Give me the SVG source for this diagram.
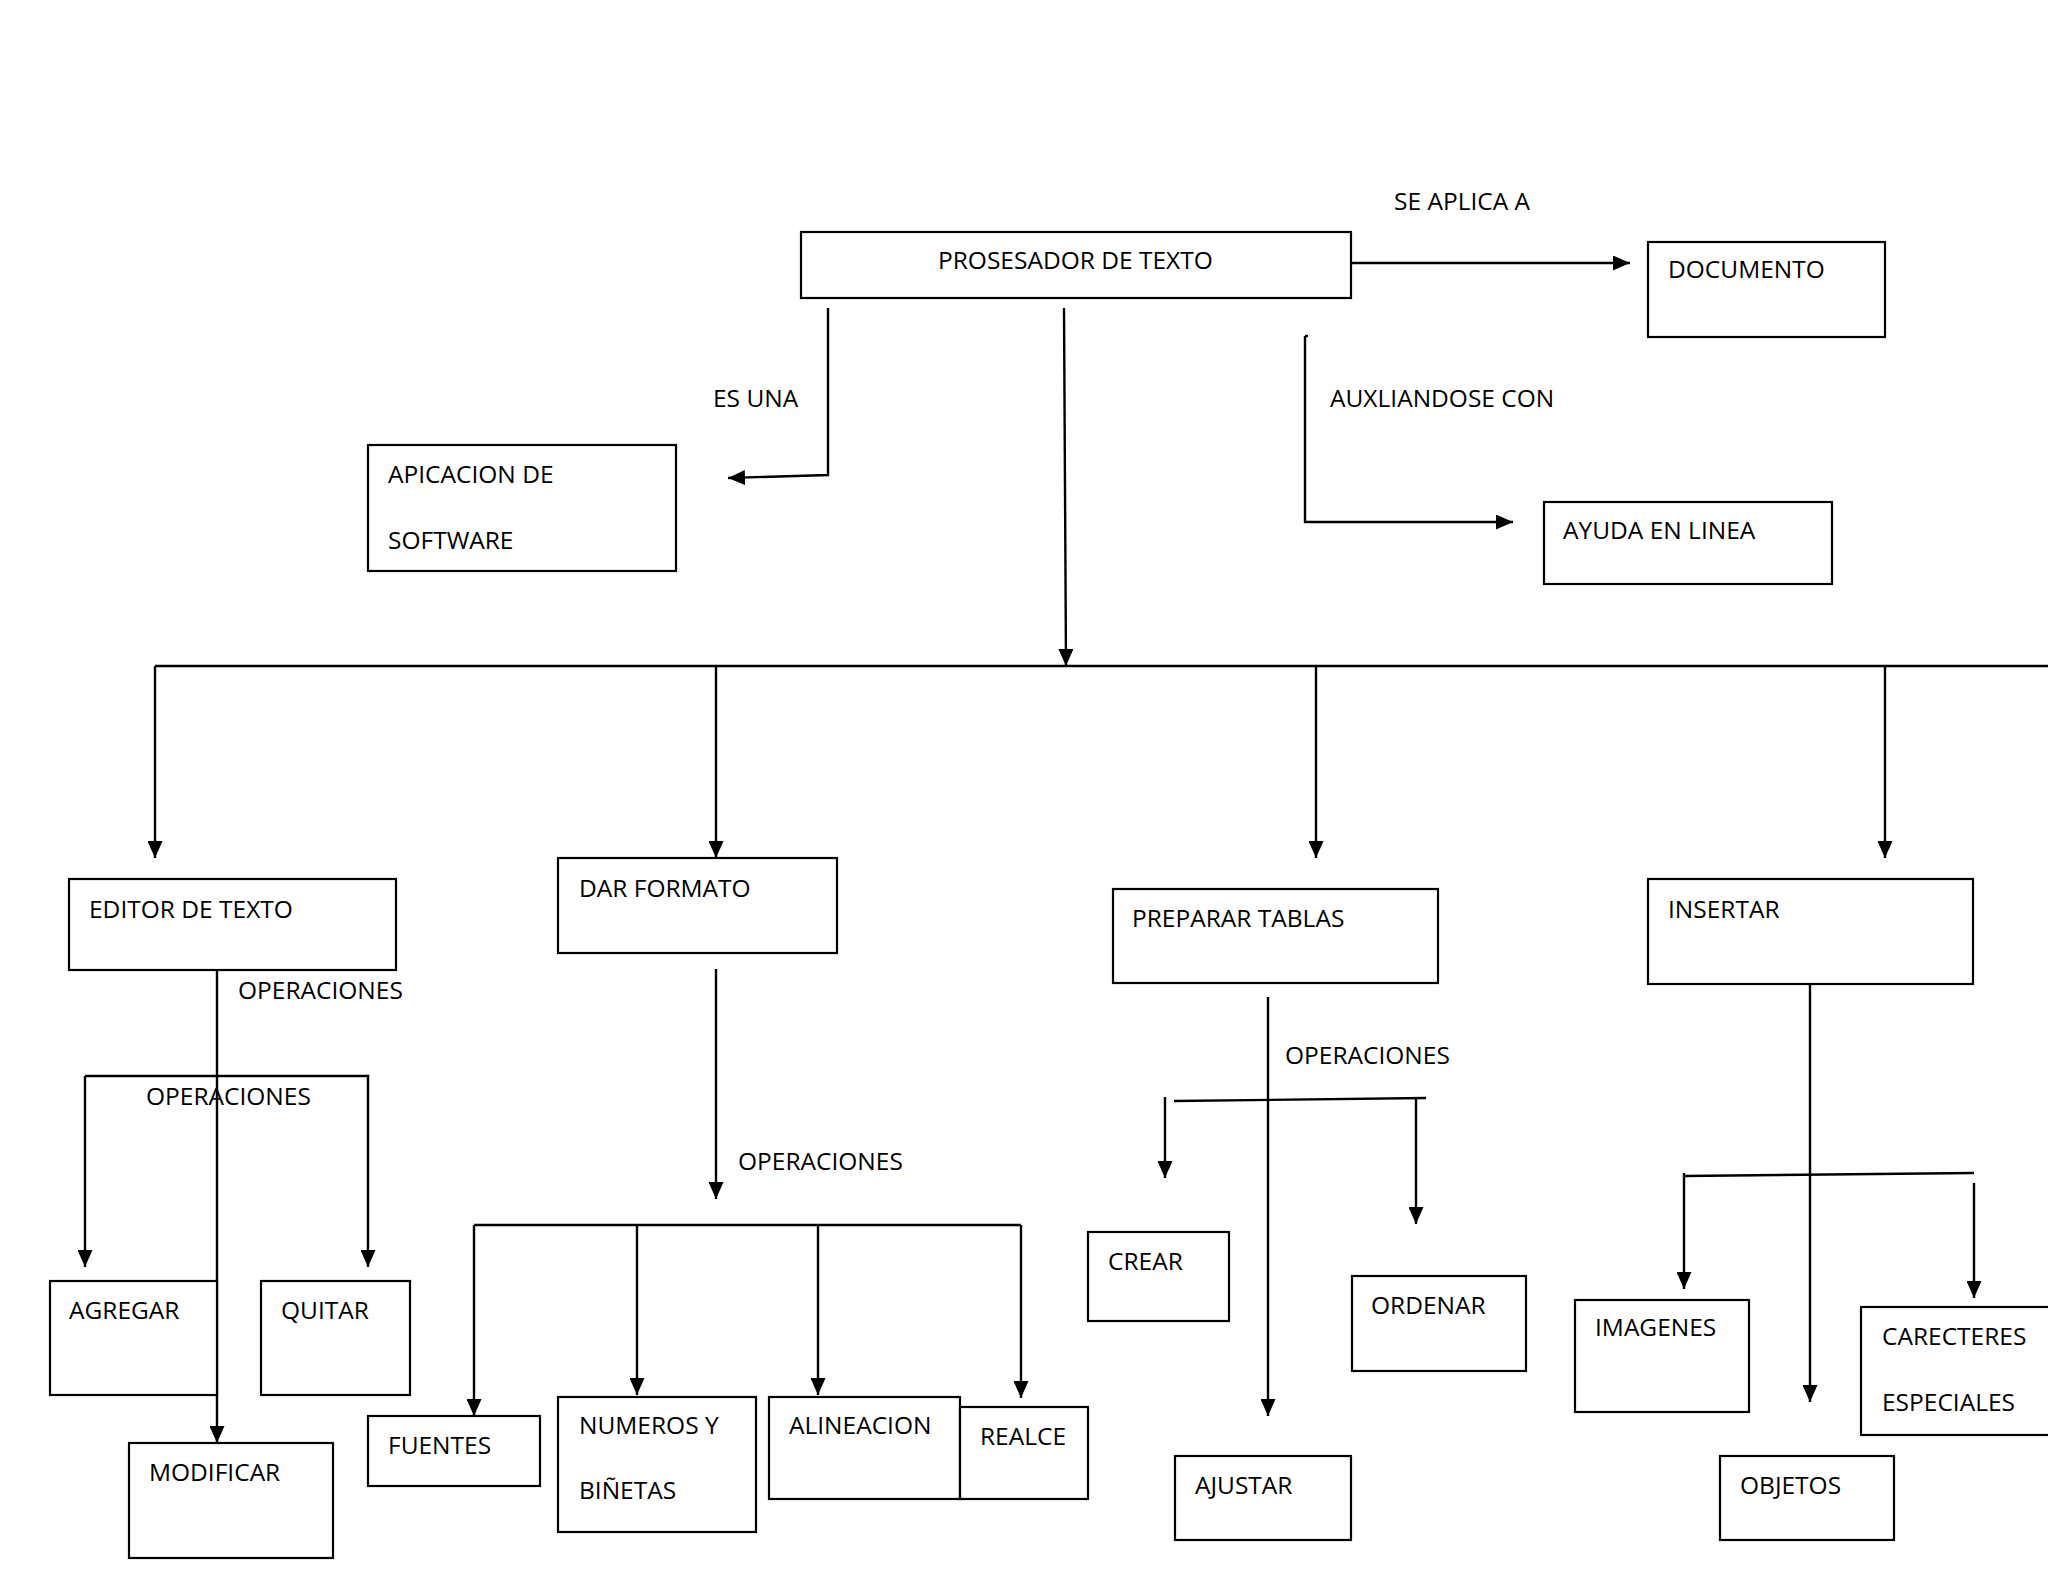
<svg xmlns="http://www.w3.org/2000/svg" width="2048" height="1582" viewBox="0 0 2048 1582">
<style>
.box{fill:#fff;stroke:#000;stroke-width:2.2}
.ln{fill:none;stroke:#000;stroke-width:2.4}
.ar{marker-end:url(#ah)}
text{font-family:"Open Sans","Liberation Sans",sans-serif;font-size:24.5px;fill:#000}
</style>
<defs>
<marker id="ah" markerUnits="userSpaceOnUse" markerWidth="18" markerHeight="15" refX="17" refY="7.5" orient="auto">
<path d="M0,0 L17,7.5 L0,15 z" fill="#000"/>
</marker>
</defs>
<rect width="2048" height="1582" fill="#fff"/>

<g id="connectors">
<path class="ln ar" d="M1351,263 H1630"/>
<path class="ln ar" d="M828,308 V475 L728,478"/>
<path class="ln ar" d="M1064,308 L1066,666"/>
<path class="ln" d="M1305,336 h3"/>
<path class="ln ar" d="M1305,336 V522 H1513"/>
<path class="ln" d="M155,666 H2048"/>
<path class="ln ar" d="M155,666 V858"/>
<path class="ln ar" d="M716,666 V858"/>
<path class="ln ar" d="M1316,666 V858"/>
<path class="ln ar" d="M1885,666 V858"/>
<path class="ln ar" d="M217,970 V1443"/>
<path class="ln ar" d="M85,1076 H368 V1267"/>
<path class="ln ar" d="M85,1076 V1267"/>
<path class="ln ar" d="M716,969 V1199"/>
<path class="ln" d="M474,1225 H1021"/>
<path class="ln ar" d="M474,1225 V1416"/>
<path class="ln ar" d="M637,1225 V1395"/>
<path class="ln ar" d="M818,1225 V1395"/>
<path class="ln ar" d="M1021,1225 V1398"/>
<path class="ln ar" d="M1268,997 V1416"/>
<path class="ln" d="M1174,1101 L1426,1098"/>
<path class="ln ar" d="M1165,1097 V1178"/>
<path class="ln ar" d="M1416,1098 V1224"/>
<path class="ln ar" d="M1810,984 V1402"/>
<path class="ln" d="M1684,1176 L1974,1173"/>
<path class="ln ar" d="M1684,1173 V1289"/>
<path class="ln ar" d="M1974,1183 V1298"/>
</g>

<g id="labels">
<text x="1394" y="210">SE APLICA A</text>
<text x="713" y="407">ES UNA</text>
<text x="1330" y="407">AUXLIANDOSE CON</text>
<text x="238" y="999">OPERACIONES</text>
<text x="146" y="1105">OPERACIONES</text>
<text x="738" y="1170">OPERACIONES</text>
<text x="1285" y="1064">OPERACIONES</text>
</g>

<g id="n-prosesador"><rect class="box" x="801" y="232" width="550" height="66"/><text x="938" y="269">PROSESADOR DE TEXTO</text></g>
<g id="n-documento"><rect class="box" x="1648" y="242" width="237" height="95"/><text x="1668" y="278">DOCUMENTO</text></g>
<g id="n-aplicacion"><rect class="box" x="368" y="445" width="308" height="126"/><text x="388" y="483">APICACION DE</text><text x="388" y="549">SOFTWARE</text></g>
<g id="n-ayuda"><rect class="box" x="1544" y="502" width="288" height="82"/><text x="1563" y="539">AYUDA EN LINEA</text></g>

<g id="n-editor"><rect class="box" x="69" y="879" width="327" height="91"/><text x="89" y="918">EDITOR DE TEXTO</text></g>
<g id="n-formato"><rect class="box" x="558" y="858" width="279" height="95"/><text x="579" y="897">DAR FORMATO</text></g>
<g id="n-tablas"><rect class="box" x="1113" y="889" width="325" height="94"/><text x="1132" y="927">PREPARAR TABLAS</text></g>
<g id="n-insertar"><rect class="box" x="1648" y="879" width="325" height="105"/><text x="1668" y="918">INSERTAR</text></g>

<g id="n-agregar"><rect class="box" x="50" y="1281" width="167" height="114"/><text x="69" y="1319">AGREGAR</text></g>
<g id="n-quitar"><rect class="box" x="261" y="1281" width="149" height="114"/><text x="281" y="1319">QUITAR</text></g>
<g id="n-modificar"><rect class="box" x="129" y="1443" width="204" height="115"/><text x="149" y="1481">MODIFICAR</text></g>

<g id="n-fuentes"><rect class="box" x="368" y="1416" width="172" height="70"/><text x="388" y="1454">FUENTES</text></g>
<g id="n-numeros"><rect class="box" x="558" y="1397" width="198" height="135"/><text x="579" y="1434">NUMEROS Y</text><text x="579" y="1499">BIÑETAS</text></g>
<g id="n-alineacion"><rect class="box" x="769" y="1397" width="191" height="102"/><text x="789" y="1434">ALINEACION</text></g>
<g id="n-realce"><rect class="box" x="960" y="1407" width="128" height="92"/><text x="980" y="1445">REALCE</text></g>

<g id="n-crear"><rect class="box" x="1088" y="1232" width="141" height="89"/><text x="1108" y="1270">CREAR</text></g>
<g id="n-ordenar"><rect class="box" x="1352" y="1276" width="174" height="95"/><text x="1371" y="1314">ORDENAR</text></g>
<g id="n-ajustar"><rect class="box" x="1175" y="1456" width="176" height="84"/><text x="1195" y="1494">AJUSTAR</text></g>

<g id="n-imagenes"><rect class="box" x="1575" y="1300" width="174" height="112"/><text x="1595" y="1336">IMAGENES</text></g>
<g id="n-caracteres"><rect class="box" x="1861" y="1307" width="200" height="128"/><text x="1882" y="1345">CARECTERES</text><text x="1882" y="1411">ESPECIALES</text></g>
<g id="n-objetos"><rect class="box" x="1720" y="1456" width="174" height="84"/><text x="1740" y="1494">OBJETOS</text></g>
</svg>
